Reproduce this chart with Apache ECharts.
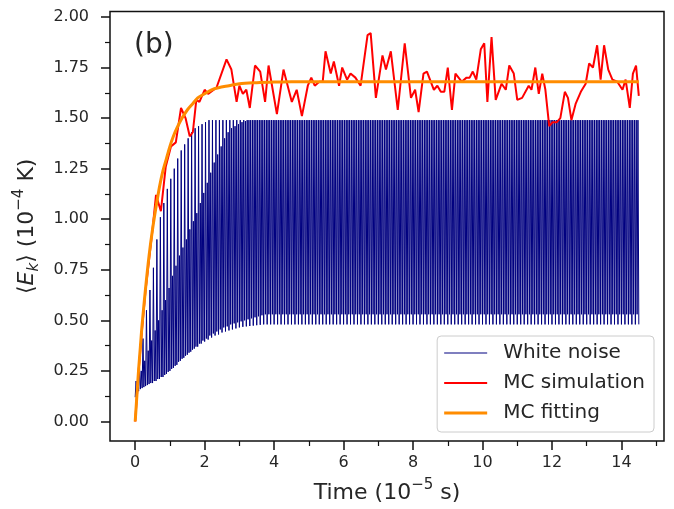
<!DOCTYPE html>
<html>
<head>
<meta charset="utf-8">
<script src="https://cdn.jsdelivr.net/npm/echarts@6/dist/echarts.min.js"></script>
<style>
  html, body { margin: 0; padding: 0; background: #fff; }
  #main { width: 674px; height: 509px; }
</style>
</head>
<body>
<div id="main"></div>
<script>
// white noise: troughs at t = 0.1k, peaks at 0.1k+0.025, second troughs at 0.1k+0.05, second peaks at 0.1k+0.075
var noiseLowA = [
  0.12, 0.15, 0.165, 0.175, 0.185, 0.19, 0.2, 0.21, 0.22, 0.235,
  0.25, 0.265, 0.28, 0.3, 0.315, 0.33, 0.345, 0.36, 0.37, 0.385,
  0.395, 0.405, 0.415, 0.425, 0.43, 0.44, 0.445, 0.45, 0.455, 0.46,
  0.465, 0.468, 0.47, 0.472, 0.474, 0.476, 0.478, 0.48, 0.48, 0.48,
  0.48, 0.48, 0.48, 0.48, 0.48, 0.48, 0.48, 0.48, 0.48, 0.48,
  0.48, 0.48, 0.48, 0.48, 0.48, 0.48, 0.48, 0.48, 0.48, 0.48,
  0.48, 0.48, 0.48, 0.48, 0.48, 0.48, 0.48, 0.48, 0.48, 0.48,
  0.48, 0.48, 0.48, 0.48, 0.48, 0.48, 0.48, 0.48, 0.48, 0.48,
  0.48, 0.48, 0.48, 0.48, 0.48, 0.48, 0.48, 0.48, 0.48, 0.48,
  0.48, 0.48, 0.48, 0.48, 0.48, 0.48, 0.48, 0.48, 0.48, 0.48,
  0.48, 0.48, 0.48, 0.48, 0.48, 0.48, 0.48, 0.48, 0.48, 0.48,
  0.48, 0.48, 0.48, 0.48, 0.48, 0.48, 0.48, 0.48, 0.48, 0.48,
  0.48, 0.48, 0.48, 0.48, 0.48, 0.48, 0.48, 0.48, 0.48, 0.48,
  0.48, 0.48, 0.48, 0.48, 0.48, 0.48, 0.48, 0.48, 0.48, 0.48,
  0.48, 0.48, 0.48, 0.48, 0.48, 0.48
];
var noiseUpper = [
  0.2, 0.27, 0.41, 0.55, 0.65, 0.76, 0.9, 1.01, 1.08, 1.15,
  1.2, 1.25, 1.3, 1.34, 1.37, 1.4, 1.43, 1.45, 1.46, 1.47,
  1.48, 1.49, 1.49, 1.49, 1.49, 1.49, 1.49, 1.49, 1.49, 1.49,
  1.49, 1.49, 1.49, 1.49, 1.49, 1.49, 1.49, 1.49, 1.49, 1.49,
  1.49, 1.49, 1.49, 1.49, 1.49, 1.49, 1.49, 1.49, 1.49, 1.49,
  1.49, 1.49, 1.49, 1.49, 1.49, 1.49, 1.49, 1.49, 1.49, 1.49,
  1.49, 1.49, 1.49, 1.49, 1.49, 1.49, 1.49, 1.49, 1.49, 1.49,
  1.49, 1.49, 1.49, 1.49, 1.49, 1.49, 1.49, 1.49, 1.49, 1.49,
  1.49, 1.49, 1.49, 1.49, 1.49, 1.49, 1.49, 1.49, 1.49, 1.49,
  1.49, 1.49, 1.49, 1.49, 1.49, 1.49, 1.49, 1.49, 1.49, 1.49,
  1.49, 1.49, 1.49, 1.49, 1.49, 1.49, 1.49, 1.49, 1.49, 1.49,
  1.49, 1.49, 1.49, 1.49, 1.49, 1.49, 1.49, 1.49, 1.49, 1.49,
  1.49, 1.49, 1.49, 1.49, 1.49, 1.49, 1.49, 1.49, 1.49, 1.49,
  1.49, 1.49, 1.49, 1.49, 1.49, 1.49, 1.49, 1.49, 1.49, 1.49,
  1.49, 1.49, 1.49, 1.49, 1.49
];
var noiseLowB = [
  0.14, 0.16, 0.17, 0.18, 0.19, 0.2, 0.21, 0.22, 0.23, 0.245,
  0.26, 0.275, 0.295, 0.31, 0.325, 0.34, 0.355, 0.37, 0.385, 0.4,
  0.41, 0.425, 0.435, 0.445, 0.455, 0.465, 0.47, 0.48, 0.485, 0.49,
  0.495, 0.5, 0.505, 0.51, 0.515, 0.52, 0.525, 0.53, 0.53, 0.53,
  0.53, 0.53, 0.53, 0.53, 0.53, 0.53, 0.53, 0.53, 0.53, 0.53,
  0.53, 0.53, 0.53, 0.53, 0.53, 0.53, 0.53, 0.53, 0.53, 0.53,
  0.53, 0.53, 0.53, 0.53, 0.53, 0.53, 0.53, 0.53, 0.53, 0.53,
  0.53, 0.53, 0.53, 0.53, 0.53, 0.53, 0.53, 0.53, 0.53, 0.53,
  0.53, 0.53, 0.53, 0.53, 0.53, 0.53, 0.53, 0.53, 0.53, 0.53,
  0.53, 0.53, 0.53, 0.53, 0.53, 0.53, 0.53, 0.53, 0.53, 0.53,
  0.53, 0.53, 0.53, 0.53, 0.53, 0.53, 0.53, 0.53, 0.53, 0.53,
  0.53, 0.53, 0.53, 0.53, 0.53, 0.53, 0.53, 0.53, 0.53, 0.53,
  0.53, 0.53, 0.53, 0.53, 0.53, 0.53, 0.53, 0.53, 0.53, 0.53,
  0.53, 0.53, 0.53, 0.53, 0.53, 0.53, 0.53, 0.53, 0.53, 0.53,
  0.53, 0.53, 0.53, 0.53, 0.53
];
var noiseMid = [
  0.2, 0.25, 0.3, 0.35, 0.4, 0.45, 0.5, 0.55, 0.6, 0.66,
  0.72, 0.77, 0.82, 0.86, 0.9, 0.95, 0.99, 1.03, 1.08, 1.13,
  1.18, 1.23, 1.28, 1.32, 1.36, 1.4, 1.43, 1.45, 1.46, 1.47,
  1.48, 1.485, 1.49, 1.49, 1.49, 1.49, 1.49, 1.49, 1.49, 1.49,
  1.49, 1.49, 1.49, 1.49, 1.49, 1.49, 1.49, 1.49, 1.49, 1.49,
  1.49, 1.49, 1.49, 1.49, 1.49, 1.49, 1.49, 1.49, 1.49, 1.49,
  1.49, 1.49, 1.49, 1.49, 1.49, 1.49, 1.49, 1.49, 1.49, 1.49,
  1.49, 1.49, 1.49, 1.49, 1.49, 1.49, 1.49, 1.49, 1.49, 1.49,
  1.49, 1.49, 1.49, 1.49, 1.49, 1.49, 1.49, 1.49, 1.49, 1.49,
  1.49, 1.49, 1.49, 1.49, 1.49, 1.49, 1.49, 1.49, 1.49, 1.49,
  1.49, 1.49, 1.49, 1.49, 1.49, 1.49, 1.49, 1.49, 1.49, 1.49,
  1.49, 1.49, 1.49, 1.49, 1.49, 1.49, 1.49, 1.49, 1.49, 1.49,
  1.49, 1.49, 1.49, 1.49, 1.49, 1.49, 1.49, 1.49, 1.49, 1.49,
  1.49, 1.49, 1.49, 1.49, 1.49, 1.49, 1.49, 1.49, 1.49, 1.49,
  1.49, 1.49, 1.49, 1.49, 1.49
];

// MC simulation
var simTime = [
  0, 0.1, 0.2, 0.3, 0.4, 0.5, 0.6, 0.74, 0.88, 1.03,
  1.17, 1.32, 1.45, 1.57, 1.66, 1.76, 1.85, 2.0, 2.1, 2.34,
  2.63, 2.77, 2.92, 3.0, 3.1, 3.2, 3.3, 3.45, 3.6, 3.74,
  3.84, 3.94, 4.08, 4.27, 4.51, 4.65, 4.8, 4.97, 5.07, 5.17,
  5.3, 5.4, 5.48, 5.63, 5.72, 5.87, 5.96, 6.1, 6.2, 6.34,
  6.49, 6.69, 6.78, 6.93, 7.12, 7.22, 7.36, 7.56, 7.76, 7.94,
  8.06, 8.16, 8.3, 8.4, 8.6, 8.7, 8.8, 8.9, 9.0, 9.12,
  9.22, 9.4, 9.54, 9.63, 9.72, 9.82, 9.95, 10.05, 10.14, 10.26,
  10.38, 10.55, 10.67, 10.77, 10.9, 11.0, 11.14, 11.33, 11.41, 11.52,
  11.62, 11.72, 11.81, 11.92, 12.02, 12.14, 12.24, 12.37, 12.46, 12.56,
  12.68, 12.83, 12.97, 13.07, 13.18, 13.3, 13.4, 13.5, 13.62, 13.74,
  13.88, 14.03, 14.12, 14.24, 14.33, 14.42, 14.5
];
var simValue = [
  0, 0.25, 0.46, 0.65, 0.8, 0.95, 1.12, 1.04, 1.26, 1.36,
  1.38, 1.55, 1.5, 1.41, 1.43, 1.59, 1.58, 1.64, 1.62, 1.65,
  1.79, 1.74, 1.58, 1.66, 1.62, 1.64, 1.55, 1.76, 1.73, 1.58,
  1.76, 1.66, 1.52, 1.74, 1.58, 1.64, 1.51, 1.66, 1.70, 1.66,
  1.68, 1.68, 1.83, 1.72, 1.78, 1.66, 1.75, 1.69, 1.72, 1.70,
  1.66, 1.91, 1.92, 1.60, 1.81, 1.74, 1.83, 1.54, 1.87, 1.60,
  1.64, 1.53, 1.72, 1.73, 1.64, 1.66, 1.63, 1.63, 1.75, 1.54,
  1.72, 1.68, 1.70, 1.70, 1.73, 1.69, 1.84, 1.87, 1.58, 1.90,
  1.59, 1.67, 1.64, 1.76, 1.72, 1.59, 1.60, 1.66, 1.64, 1.75,
  1.62, 1.72, 1.64, 1.46, 1.48, 1.48, 1.50, 1.63, 1.60, 1.49,
  1.57, 1.63, 1.67, 1.77, 1.75, 1.86, 1.69, 1.86, 1.74, 1.69,
  1.68, 1.64, 1.69, 1.55, 1.72, 1.76, 1.61
];

// MC fitting
var fitTime = [0, 0.05, 0.1, 0.15, 0.2, 0.3, 0.4, 0.5, 0.6, 0.7, 0.8, 0.9, 1.0, 1.1, 1.2, 1.35,
  1.5, 1.65, 1.8, 2.0, 2.2, 2.4, 2.7, 3.0, 3.5, 4.0, 4.5, 14.5];
var fitValue = [0, 0.13, 0.26, 0.37, 0.48, 0.66, 0.82, 0.95, 1.06, 1.16, 1.24, 1.3, 1.36, 1.41, 1.45, 1.5,
  1.54, 1.57, 1.6, 1.62, 1.64, 1.65, 1.66, 1.67, 1.675, 1.678, 1.68, 1.68];

var xMajor = [0, 2, 4, 6, 8, 10, 12, 14];
var xMinor = [1, 3, 5, 7, 9, 11, 13, 15];
var yMajor = [0, 0.25, 0.5, 0.75, 1.0, 1.25, 1.5, 1.75, 2.0];
var yMinor = [0.125, 0.375, 0.625, 0.875, 1.125, 1.375, 1.625, 1.875];

var noise = [];
for (var k = 0; k < noiseUpper.length; k++) {
  var t0 = k * 0.1;
  noise.push([+t0.toFixed(3), noiseLowA[k]]);
  noise.push([+(t0 + 0.025).toFixed(3), noiseUpper[k]]);
  noise.push([+(t0 + 0.05).toFixed(3), noiseLowB[k]]);
  noise.push([+(t0 + 0.075).toFixed(3), noiseMid[k]]);
}
noise.push([14.5, noiseLowA[noiseUpper.length]]);

var sim = simTime.map(function (t, i) { return [t, simValue[i]]; });
var fit = fitTime.map(function (t, i) { return [t, fitValue[i]]; });

var font = 'DejaVu Sans';
var ink = '#262626';
var chart = echarts.init(document.getElementById('main'), null, { renderer: 'canvas' });

// thin horizontal bars for the legend keys, one per line width
function bar(h) { return 'path://M0,0 L43,0 L43,' + h + ' L0,' + h + ' Z'; }

chart.setOption({
  animation: false,
  backgroundColor: '#fff',
  textStyle: { fontFamily: font, color: ink },
  grid: {
    left: 110, right: 10, top: 11.6, bottom: 65.4,
    show: true, borderColor: '#111', borderWidth: 1.5,
    backgroundColor: 'transparent'
  },
  graphic: [{
    type: 'text', left: 134, top: 32,
    style: { text: '(b)', fontSize: 28, fontFamily: font, fill: ink }
  }],
  legend: {
    orient: 'vertical', right: 20, top: 336,
    itemWidth: 43, itemHeight: 14, itemGap: 10,
    padding: [7, 9, 9, 7],
    borderColor: '#cccccc', borderWidth: 1, borderRadius: 4,
    backgroundColor: 'rgba(255,255,255,0.8)',
    textStyle: { fontSize: 20, fontFamily: font, color: ink, lineHeight: 20, padding: [0, 0, 0, 11] },
    data: [
      { name: 'White noise', icon: bar(1) },
      { name: 'MC simulation', icon: bar(2) },
      { name: 'MC fitting', icon: bar(3) }
    ]
  },
  xAxis: [{
    type: 'value', min: -0.725, max: 15.225,
    axisLine: { show: false, onZero: false }, splitLine: { show: false },
    axisTick: { show: true, length: 9, customValues: xMajor, lineStyle: { color: '#111', width: 1.5 } },
    axisLabel: { customValues: xMajor, fontSize: 16, fontFamily: font, color: ink, margin: 14 },
    name: 'Time (10{sup|−5} s)', nameLocation: 'middle', nameGap: 37,
    nameTextStyle: {
      fontSize: 22, fontFamily: font, color: ink,
      rich: { sup: { fontSize: 15, fontFamily: font, color: ink, verticalAlign: 'top', lineHeight: 30 } }
    }
  }, {
    type: 'value', min: -0.725, max: 15.225, position: 'bottom',
    axisLine: { show: false, onZero: false }, splitLine: { show: false }, axisLabel: { show: false },
    axisTick: { show: true, length: 5, customValues: xMinor, lineStyle: { color: '#111', width: 1.2 } }
  }],
  yAxis: [{
    type: 'value', min: -0.0965, max: 2.0265,
    axisLine: { show: false, onZero: false }, splitLine: { show: false },
    axisTick: { show: true, length: 9, customValues: yMajor, lineStyle: { color: '#111', width: 1.5 } },
    axisLabel: {
      customValues: yMajor, fontSize: 16, fontFamily: font, color: ink, margin: 21,
      formatter: function (v) { return v.toFixed(2); }
    },
    name: '⟨{it|E}{sub|k}⟩ (10{sup|−4} K)', nameLocation: 'middle', nameGap: 68, nameRotate: 90,
    nameTextStyle: {
      fontSize: 22, fontFamily: font, color: ink,
      rich: {
        it: { fontSize: 22, fontStyle: 'italic', fontFamily: font, color: ink },
        sub: { fontSize: 15, fontStyle: 'italic', fontFamily: font, color: ink, verticalAlign: 'bottom', lineHeight: 30 },
        sup: { fontSize: 15, fontFamily: font, color: ink, verticalAlign: 'top', lineHeight: 30 }
      }
    }
  }, {
    type: 'value', min: -0.0965, max: 2.0265, position: 'left',
    axisLine: { show: false, onZero: false }, splitLine: { show: false }, axisLabel: { show: false },
    axisTick: { show: true, length: 5, customValues: yMinor, lineStyle: { color: '#111', width: 1.2 } }
  }],
  series: [{
    name: 'White noise', type: 'line', data: noise,
    symbol: 'none', lineStyle: { color: '#000080', width: 1 }, itemStyle: { color: '#000080' },
    z: 2
  }, {
    name: 'MC simulation', type: 'line', data: sim,
    symbol: 'none', lineStyle: { color: '#ff0000', width: 2 }, itemStyle: { color: '#ff0000' },
    z: 3
  }, {
    name: 'MC fitting', type: 'line', data: fit, smooth: 0.3,
    symbol: 'none', lineStyle: { color: '#ff8c00', width: 3 }, itemStyle: { color: '#ff8c00' },
    z: 4
  }]
});
</script>
</body>
</html>
